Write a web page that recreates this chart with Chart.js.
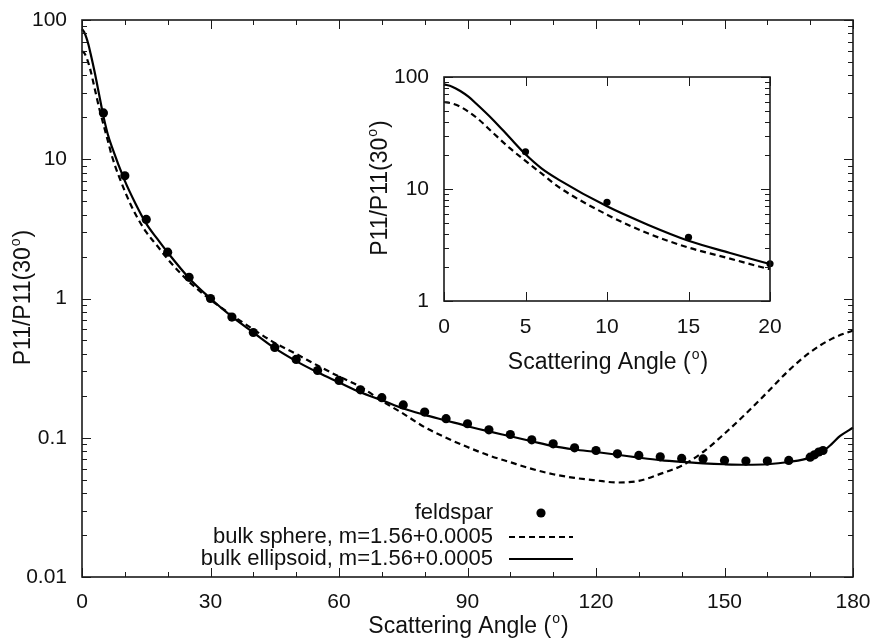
<!DOCTYPE html>
<html>
<head>
<meta charset="utf-8">
<title>P11 feldspar</title>
<script src="https://cdn.jsdelivr.net/npm/chart.js@4.4.0/dist/chart.umd.min.js"></script>
<style>
    html, body { margin: 0; padding: 0; background: #fff; }
    #wrap { position: relative; width: 880px; height: 641px; }
    #mainChart { position: absolute; left: 0; top: 0; }
    #insetChart { position: absolute; left: 350px; top: 60px; }
</style>
</head>
<body>
<div id="wrap">
    <canvas id="mainChart" width="880" height="641"></canvas>
    <canvas id="insetChart" width="440" height="320"></canvas>
</div>
<script>
// Measured feldspar phase function (normalized at 30 deg)
const feldsparAngle = [5, 10, 15, 20, 25, 30, 35, 40, 45, 50, 55, 60, 65, 70, 75, 80, 85, 90, 95, 100,
    105, 110, 115, 120, 125, 130, 135, 140, 145, 150, 155, 160, 165, 170, 171, 172, 173];
const feldsparValue = [21.5, 7.6, 3.7, 2.15, 1.42, 1.0, 0.735, 0.57, 0.445, 0.365, 0.304, 0.258, 0.221, 0.194, 0.172, 0.153, 0.137, 0.126, 0.114, 0.1055,
    0.0966, 0.0905, 0.0847, 0.081, 0.0767, 0.0746, 0.073, 0.071, 0.0705, 0.0687, 0.068, 0.068, 0.0687, 0.0725, 0.0754, 0.079, 0.081];

// Bulk sphere model (dashed)
const sphereAngle = [0, 0.5, 1, 2, 3, 4, 5, 6, 7, 10, 12.5, 15, 17.5, 20, 25, 30, 35, 40, 45, 50, 55, 60, 65, 70, 75, 80, 85, 90,
    95, 100, 105, 110, 115, 120, 125, 130, 135, 140, 145, 150, 155, 160, 165, 170, 175, 180];
const sphereValue = [59.8, 58, 54.3, 43.3, 31.8, 23.4, 17.8, 13.7, 10.5, 5.9, 4.02, 3.0, 2.4, 1.92, 1.32, 0.98, 0.76, 0.6, 0.48, 0.40, 0.33, 0.275, 0.232, 0.184, 0.149, 0.119, 0.1, 0.0857,
    0.0746, 0.0667, 0.0598, 0.0547, 0.0515, 0.0494, 0.0477, 0.049, 0.055, 0.063, 0.079, 0.107, 0.149, 0.212, 0.304, 0.411, 0.513, 0.59];

// Bulk ellipsoid model (solid)
const ellipsoidAngle = [0, 0.5, 1, 1.5, 2, 3, 4, 5, 6, 7, 10, 12.5, 15, 17.5, 20, 25, 30, 35, 40, 45, 50, 55, 60, 65, 70, 75, 80, 85, 90,
    95, 100, 105, 110, 115, 120, 125, 130, 135, 140, 145, 150, 155, 160, 165, 170, 173, 175, 177, 180];
const ellipsoidValue = [86, 82, 75, 66.7, 57.4, 41.6, 29.1, 20.4, 15.2, 12.2, 7.0, 4.8, 3.45, 2.7, 2.14, 1.4, 1.0, 0.74, 0.57, 0.44, 0.355, 0.295, 0.25, 0.212, 0.186, 0.162, 0.146, 0.133, 0.121,
    0.111, 0.1025, 0.0944, 0.087, 0.0823, 0.079, 0.0755, 0.072, 0.069, 0.067, 0.0655, 0.0645, 0.064, 0.0645, 0.067, 0.072, 0.08, 0.09, 0.103, 0.118];

// Legend labels
const seriesLabels = ['feldspar', 'bulk sphere, m=1.56+0.0005', 'bulk ellipsoid, m=1.56+0.0005'];

// Tick labels
const mainXTicks = [0, 30, 60, 90, 120, 150, 180];
const mainXMinor = [0, 10, 20, 30, 40, 50, 60, 70, 80, 90, 100, 110, 120, 130, 140, 150, 160, 170, 180];
const insetXTicks = [0, 5, 10, 15, 20];
const mainYTicks = [0.01, 0.1, 1, 10, 100];
const insetYTicks = [1, 10, 100];

const FONT = '"Liberation Sans", Arial, Helvetica, sans-serif';
const INK = '#111';

function toPoints(xs, ys) {
    return xs.map((x, i) => ({ x: x, y: ys[i] }));
}

function logMinor(majors) {
    const out = [];
    for (let i = 0; i < majors.length - 1; i++) {
        for (let k = 2; k <= 9; k++) out.push(majors[i] * k);
    }
    return out;
}

// Title with a superscript part
function drawSupTitle(ctx, pre, sup, post, cx, cy, rotate, size) {
    ctx.save();
    ctx.translate(cx, cy);
    if (rotate) ctx.rotate(-Math.PI / 2);
    const f = size + 'px ' + FONT;
    const fs = Math.round(size * 0.62) + 'px ' + FONT;
    ctx.font = f;
    const w1 = ctx.measureText(pre).width;
    const w3 = ctx.measureText(post).width;
    ctx.font = fs;
    const w2 = ctx.measureText(sup).width;
    let x = -(w1 + w2 + w3) / 2;
    ctx.textBaseline = 'middle';
    ctx.textAlign = 'left';
    ctx.fillStyle = INK;
    ctx.font = f;
    ctx.fillText(pre, x, 0);
    x += w1;
    ctx.font = fs;
    ctx.fillText(sup, x + 1, -size * 0.36);
    x += w2 + 2;
    ctx.font = f;
    ctx.fillText(post, x, 0);
    ctx.restore();
}

// Frame, inward ticks on all four sides, axis titles and legend
const framePlugin = {
    id: 'frame',
    afterDraw(chart, args, opts) {
        const ctx = chart.ctx;
        const a = chart.chartArea;
        const x = chart.scales.x;
        const y = chart.scales.y;
        ctx.save();
        ctx.strokeStyle = '#1a1a1a';
        ctx.lineWidth = 1;
        ctx.beginPath();
        opts.xTicks.forEach(v => {
            const px = Math.round(x.getPixelForValue(v)) + 0.5;
            const len = opts.xMajor.includes(v) ? 9 : 5;
            ctx.moveTo(px, a.bottom); ctx.lineTo(px, a.bottom - len);
            ctx.moveTo(px, a.top); ctx.lineTo(px, a.top + len);
        });
        opts.yMajor.concat(opts.yMinor).forEach(v => {
            const py = Math.round(y.getPixelForValue(v)) + 0.5;
            const len = opts.yMajor.includes(v) ? 9 : 5;
            ctx.moveTo(a.left, py); ctx.lineTo(a.left + len, py);
            ctx.moveTo(a.right, py); ctx.lineTo(a.right - len, py);
        });
        ctx.stroke();
        ctx.lineWidth = 1.6;
        ctx.strokeRect(a.left, a.top, a.right - a.left, a.bottom - a.top);
        ctx.restore();

        const cx = (a.left + a.right) / 2;
        const cy = (a.top + a.bottom) / 2;
        drawSupTitle(ctx, 'Scattering Angle (', 'o', ')', cx, a.bottom + opts.xTitleOffset, false, 23);
        drawSupTitle(ctx, 'P11/P11(30', 'o', ')', opts.yTitleX, cy, true, 23);

        if (opts.legend) {
            const L = opts.legend;
            ctx.save();
            ctx.font = '22px ' + FONT;
            ctx.fillStyle = INK;
            ctx.textAlign = 'right';
            ctx.textBaseline = 'middle';
            chart.data.datasets.forEach((ds, i) => {
                const ly = L.rows[i];
                ctx.fillText(ds.label, L.textRight, ly);
                if (ds.showLine === false) {
                    ctx.beginPath();
                    ctx.arc((L.lineLeft + L.lineRight) / 2, ly, ds.pointRadius, 0, Math.PI * 2);
                    ctx.fillStyle = ds.pointBackgroundColor;
                    ctx.fill();
                    ctx.fillStyle = INK;
                } else {
                    ctx.beginPath();
                    ctx.setLineDash(ds.borderDash || []);
                    ctx.lineWidth = ds.borderWidth;
                    ctx.strokeStyle = ds.borderColor;
                    ctx.moveTo(L.lineLeft, ly);
                    ctx.lineTo(L.lineRight, ly);
                    ctx.stroke();
                    ctx.setLineDash([]);
                }
            });
            ctx.restore();
        }
    }
};

function makeDatasets(dotRadius, insetMode) {
    return [
        {
            label: seriesLabels[0],
            data: toPoints(feldsparAngle, feldsparValue),
            showLine: false,
            pointRadius: dotRadius,
            pointBackgroundColor: '#000',
            pointBorderWidth: 0,
            clip: insetMode ? 6 : 8
        },
        {
            label: seriesLabels[1],
            data: toPoints(sphereAngle, sphereValue),
            borderColor: '#000',
            borderWidth: 2.2,
            borderDash: [6, 4],
            pointRadius: 0,
            cubicInterpolationMode: 'monotone',
            clip: 1
        },
        {
            label: seriesLabels[2],
            data: toPoints(ellipsoidAngle, ellipsoidValue),
            borderColor: '#000',
            borderWidth: 2.2,
            pointRadius: 0,
            cubicInterpolationMode: 'monotone',
            clip: 1
        }
    ];
}

// no automatic label overflow padding, the layout padding sets the plot box
function zeroPad(s) {
    s.paddingTop = 0;
    s.paddingBottom = 0;
    s.paddingLeft = 0;
    s.paddingRight = 0;
}

function makeScales(xMax, xTicks, yMin, yTicks, yWidth, xHeight, xPad) {
    return {
        x: {
            type: 'linear',
            min: 0,
            max: xMax,
            grid: { display: false, drawTicks: false },
            border: { display: false },
            afterBuildTicks: s => { s.ticks = xTicks.map(v => ({ value: v })); },
            afterFit: s => { s.height = xHeight; zeroPad(s); },
            ticks: {
                padding: xPad,
                maxRotation: 0,
                color: INK,
                font: { family: FONT, size: 21 },
                callback: v => String(v)
            }
        },
        y: {
            type: 'logarithmic',
            min: yMin,
            max: 100,
            grid: { display: false, drawTicks: false },
            border: { display: false },
            afterBuildTicks: s => { s.ticks = yTicks.map(v => ({ value: v })); },
            afterFit: s => { s.width = yWidth; zeroPad(s); },
            ticks: {
                padding: 15,
                color: INK,
                font: { family: FONT, size: 21 },
                callback: v => String(v)
            }
        }
    };
}

const charts = {};

function initCharts() {
    // Main panel
    charts.main = new Chart(document.getElementById('mainChart').getContext('2d'), {
        type: 'line',
        data: { datasets: makeDatasets(4.6, false) },
        options: {
            responsive: false,
            animation: false,
            layout: { padding: { left: 0, top: 20, right: 27, bottom: 0 } },
            scales: makeScales(180, mainXTicks, 0.01, mainYTicks, 82, 64, 13),
            plugins: {
                legend: { display: false },
                tooltip: { enabled: false },
                frame: {
                    xTicks: mainXMinor,
                    xMajor: mainXTicks,
                    yMajor: mainYTicks,
                    yMinor: logMinor(mainYTicks),
                    xTitleOffset: 50,
                    yTitleX: 24,
                    legend: { textRight: 493, lineLeft: 509, lineRight: 573, rows: [513, 537, 559] }
                }
            }
        },
        plugins: [framePlugin]
    });

    // Inset: forward scattering 0-20 deg
    charts.inset = new Chart(document.getElementById('insetChart').getContext('2d'), {
        type: 'line',
        data: { datasets: makeDatasets(3.6, true) },
        options: {
            responsive: false,
            animation: false,
            layout: { padding: { left: 0, top: 17, right: 20, bottom: 0 } },
            scales: makeScales(20, insetXTicks, 1, insetYTicks, 94, 79, 14),
            plugins: {
                legend: { display: false },
                tooltip: { enabled: false },
                frame: {
                    xTicks: insetXTicks,
                    xMajor: insetXTicks,
                    yMajor: insetYTicks,
                    yMinor: logMinor(insetYTicks),
                    xTitleOffset: 62,
                    yTitleX: 31,
                    legend: null
                }
            }
        },
        plugins: [framePlugin]
    });
}

initCharts();
</script>
</body>
</html>
